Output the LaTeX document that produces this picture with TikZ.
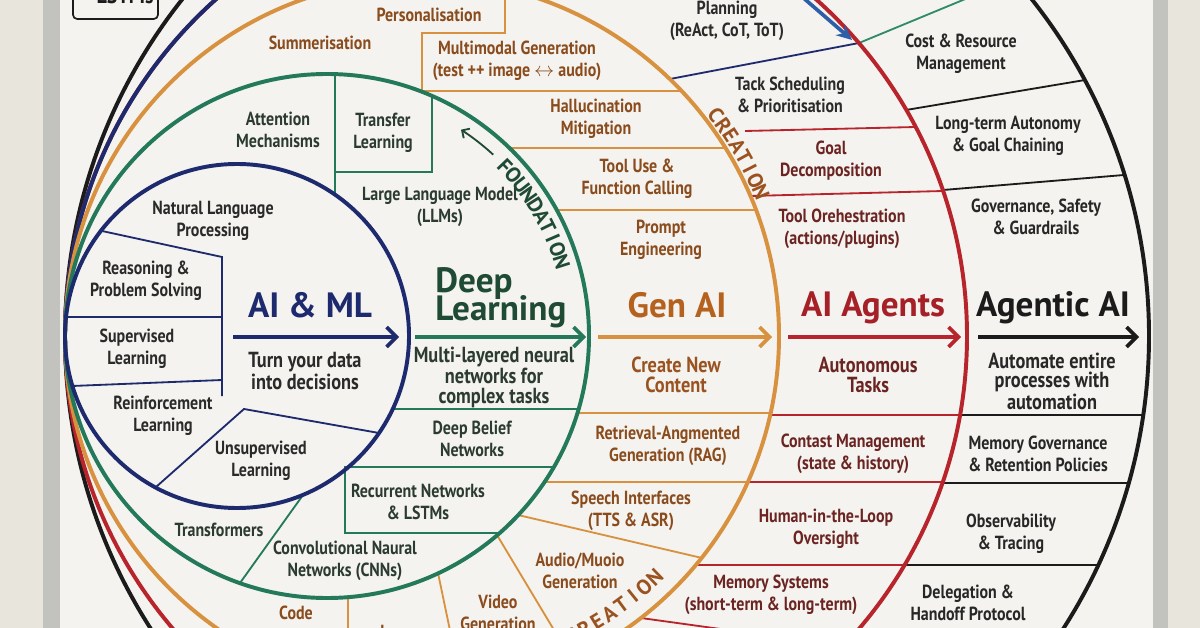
\documentclass[tikz,border=0pt]{standalone}
\usepackage{fontspec}
\newfontfamily\lblfont{PT Sans}[FakeStretch=0.84]
\newfontfamily\ttlfont{PT Sans}
\usetikzlibrary{arrows.meta}

\definecolor{wall}{HTML}{E8E5DC}
\definecolor{frame}{HTML}{C2C2BE}
\definecolor{board}{HTML}{F4F3EF}
\definecolor{navy}{HTML}{1E2A6E}
\definecolor{dlgreen}{HTML}{23795A}
\definecolor{agorange}{HTML}{D8913F}
\definecolor{agred}{HTML}{B8242B}
\definecolor{ink}{HTML}{1B1B1B}
\definecolor{planblue}{HTML}{2C5FA8}
\definecolor{tealgreen}{HTML}{2E8A6A}
\definecolor{txtb}{HTML}{2A2A2A}
\definecolor{txtg}{HTML}{2C3B30}
\definecolor{dltitle}{HTML}{1F4A33}
\definecolor{txto}{HTML}{8A4B1D}
\definecolor{gentitle}{HTML}{B5621E}
\definecolor{gensubc}{HTML}{9A5320}
\definecolor{txtr}{HTML}{6B2421}
\definecolor{txtk}{HTML}{272727}

\tikzset{
  lbl/.style={font=\lblfont\bfseries\fontsize{13.5}{15.6}\selectfont, align=center, inner sep=0pt},
  sub/.style={font=\lblfont\bfseries\fontsize{15.5}{14}\selectfont, align=center, inner sep=0pt},
  ttl/.style={font=\ttlfont\bfseries\fontsize{25}{26}\selectfont, inner sep=0pt, anchor=base},
  arcl/.style={font=\ttlfont\bfseries\fontsize{15}{15}\selectfont, inner sep=0pt},
  ring/.style={line width=2.8pt},
  sep/.style={line width=1.3pt},
  flow/.style={line width=2.6pt, -{Straight Barb[length=7pt,width=14pt]}}
}

\begin{document}
\begin{tikzpicture}[x=0.025cm, y=-0.025cm]
\useasboundingbox (0,0) rectangle (1200,628);
\clip (0,0) rectangle (1200,628);

% wall and whiteboard
\fill[wall] (0,0) rectangle (1200,628);
\fill[frame] (43,0) rectangle (60,628);
\fill[board] (60,0) rectangle (1153,628);
\fill[frame] (1153,0) rectangle (1168,628);

\coordinate (cb) at (237,336);
\coordinate (cg) at (327,336);
\coordinate (co) at (422,336);
\coordinate (cr) at (516,336);
\coordinate (ck) at (607,336);

% cells of AI & ML
\draw[sep, navy] (102,231) -- (222,257) -- (222,396);
\draw[sep, navy] (66,317) -- (222,317);
\draw[sep, navy] (72,386) -- (222,380);
\draw[sep, navy] (156,487) -- (244,409) -- (379,433);

% cells of deep learning
\draw[sep, dlgreen] (335,74) -- (335,195);
\draw[sep, dlgreen] (432,96) -- (432,172) -- (335,172);
\draw[sep, dlgreen] (393,409) -- (579,409);
\draw[sep, dlgreen] (554,467) -- (345,467) -- (345,533) -- (500,533);
\draw[sep, dlgreen] (240,583) -- (303,495);

% cells of gen AI
\draw[sep, agorange] (505,-5) -- (505,33) -- (422,33) -- (422,91) -- (681,91);
\draw[sep, agorange] (510,148) -- (725,148);
\draw[sep, agorange] (557,210) -- (756,210);
\draw[sep, agorange] (577,413) -- (771,413);
\draw[sep, agorange] (545,482) -- (748,482);
\draw[sep, agorange] (518,515) -- (702,558);
\draw[sep, agorange] (497,535) -- (560,640);
\draw[sep, agorange] (438,573) -- (452,640);
\draw[sep, agorange] (348,597) -- (348,640);

% cells of AI agents
\draw[sep, navy] (670,79) -- (859,43);
\draw[sep, agred] (745,131) -- (916,127);
\draw[sep, agred] (750,196) -- (943,191);
\draw[sep, agred] (770,415) -- (960,415);
\draw[sep, agred] (748,482) -- (943,482);
\draw[sep, agred] (696,565) -- (904,565);
\draw[sep, agred] (641,618) -- (800,640);

% cells of agentic AI
\draw[sep, tealgreen] (859,43) -- (975,-5);
\draw[sep, ink] (906,110) -- (1085,80);
\draw[sep, ink] (943,190) -- (1124,175);
\draw[sep, ink] (960,415) -- (1143,415);
\draw[sep, ink] (942,483) -- (1127,483);
\draw[sep, ink] (904,565) -- (1098,565);

% the five rings
\draw[ring, ink] (ck) circle[radius=542];
\draw[ring, agred] (cr) circle[radius=451];
\draw[ring, navy] (cr) ++(175:451) arc[start angle=175, end angle=250, radius=451];
\draw[ring, agorange] (co) circle[radius=357];
\draw[ring, dlgreen] (cg) circle[radius=262];
\draw[ring, navy] (cb) circle[radius=172];

% top arrow into planning
\coordinate (pin) at (800,-5);
\coordinate (pjoin) at (852,40);
\draw[line width=2.6pt, planblue, -{Stealth[length=11pt,width=10pt]}] (pin) -- (pjoin);

% flow arrows
\coordinate (mlS) at (233,337);  \coordinate (mlE) at (399,337);
\coordinate (dlS) at (415,337);  \coordinate (dlE) at (586,337);
\coordinate (gaS) at (598,337);  \coordinate (gaE) at (772,337);
\coordinate (agS) at (788,337);  \coordinate (agE) at (961,337);
\coordinate (acS) at (978,337);  \coordinate (acE) at (1139,337);
\draw[flow, navy] (mlS) -- (mlE);
\draw[flow, dlgreen] (dlS) -- (dlE);
\draw[flow, agorange] (gaS) -- (gaE);
\draw[flow, agred] (agS) -- (agE);
\draw[flow, ink] (acS) -- (acE);

% corner note
\draw[line width=1.2pt, ink, rounded corners=3pt] (73,-30) rectangle (158,19);
\node[font=\lblfont\bfseries\fontsize{17}{17}\selectfont, ink, anchor=base] (lstm) at (118,4) {• LSTMs};

% AI & ML
\node[lbl, txtb] (nlp) at (213,221) {Natural Language\\Processing};
\node[lbl, txtb] (reason) at (146,281) {Reasoning \&\\Problem Solving};
\node[lbl, txtb] (superv) at (137,349) {Supervised\\Learning};
\node[lbl, txtb] (reinf) at (163,416) {Reinforcement\\Learning};
\node[lbl, txtb] (unsup) at (261,461) {Unsupervised\\Learning};
\node[ttl, navy] (aiml) at (310,318) {AI \& ML};
\node[sub, txtb] (aimlsub) at (305,371) {Turn your data\\into decisions};

% deep learning
\node[lbl, txtg] (attn) at (278,130) {Attention\\Mechanisms};
\node[lbl, txtg] (transf) at (383,133) {Transfer\\Learning};
\node[lbl, txtg] (llm) at (440,207) {Large Language Model\\(LLMs)};
\node[ttl, anchor=base west, dltitle] (deep) at (435,293) {Deep};
\node[ttl, anchor=base west, dltitle] (deeplearn) at (435,321) {Learning};
\node[sub, txtg] (deepsub) at (494,377) {Multi-layered neural\\networks for\\complex tasks};
\node[lbl, txtg] (dbn) at (472,439) {Deep Belief\\Networks};
\node[lbl, txtg] (rnn) at (418,502) {Recurrent Networks\\\& LSTMs};
\node[lbl, txtg] (transfo) at (219,530) {Transformers};
\node[lbl, txtg] (cnn) at (345,561) {Convolutional Naural\\Networks (CNNs)};
\draw[line width=1.3pt, dltitle, -{Straight Barb[length=4pt,width=8pt]}] ([shift={(-47.5:246)}]cg) arc[start angle=-47.5, end angle=-57, radius=246];
\foreach \ch [count=\i, evaluate=\i as \a using {-46.6+2.9*\i}, evaluate=\i as \r using {46.6-2.9*\i-90}] in {F,O,U,N,D,A,T,I,O,N}
  \node[arcl, dltitle, rotate=\r] (fd\i) at ([shift={(\a:246)}]cg) {\ch};

% gen AI
\node[lbl, txto] (pers) at (429,15) {Personalisation};
\node[lbl, txto] (summ) at (320,43) {Summerisation};
\node[lbl, txto] (multi) at (517,61) {Multimodal Generation\\(test ++ image \(\leftrightarrow\) audio)};
\node[lbl, txto] (halluc) at (596,119) {Hallucination\\Mitigation};
\node[lbl, txto] (tooluse) at (637,179) {Tool Use \&\\Function Calling};
\node[lbl, txto] (prompt) at (661,240) {Prompt\\Engineering};
\node[ttl, gentitle] (genai) at (677,318) {Gen AI};
\node[sub, gensubc] (gensub) at (676,375) {Create New\\Content};
\node[lbl, txto] (rag) at (668,446) {Retrieval-Angmented\\Generation (RAG)};
\node[lbl, txto] (speech) at (631,511) {Speech Interfaces\\(TTS \& ASR)};
\node[lbl, txto] (audio) at (580,571) {Audio/Muoio\\Generation};
\node[lbl, txto] (video) at (498,613) {Video\\Generation};
\node[lbl, txto] (image) at (401,634) {Image};
\node[lbl, txto] (code) at (296,613) {Code};
\foreach \ch [count=\i, evaluate=\i as \a using {-39+2*\i}, evaluate=\i as \r using {39-2*\i-90}] in {C,R,E,A,T,I,O,N}
  \node[arcl, gensubc, rotate=\r] (crt\i) at ([shift={(\a:368)}]co) {\ch};
\foreach \ch [count=\i, evaluate=\i as \a using {66-2.5*\i}, evaluate=\i as \r using {2.5*\i-66+90}] in {C,R,E,A,T,I,O,N}
  \node[arcl, gensubc, rotate=\r] (crb\i) at ([shift={(\a:335)}]co) {\ch};

% AI agents
\node[lbl, txtb] (plan) at (727,21) {Planning\\(ReAct, CoT, ToT)};
\node[lbl, txtb] (task) at (790,95) {Tack Scheduling\\\& Prioritisation};
\node[lbl, txtr] (goal) at (831,161) {Goal\\Decomposition};
\node[lbl, txtr] (orch) at (842,229) {Tool Orehestration\\(actions/plugins)};
\node[ttl, color=agred!90!black] (agents) at (873,317) {AI Agents};
\node[sub, txtr] (agentsub) at (868,375) {Autonomous\\Tasks};
\node[lbl, txtr] (context) at (853,454) {Contast Management\\(state \& history)};
\node[lbl, txtr] (hitl) at (826,529) {Human-in-the-Loop\\Oversight};
\node[lbl, txtr] (memsys) at (771,595) {Memory Systems\\(short-term \& long-term)};

% agentic AI
\node[lbl, txtk] (cost) at (961,54) {Cost \& Resource\\Management};
\node[lbl, txtk] (longterm) at (1008,136) {Long-term Autonomy\\\& Goal Chaining};
\node[lbl, txtk] (govern) at (1036,217) {Governance, Safety\\\& Guardrails};
\node[ttl, ink] (agentic) at (1053,317) {Agentic AI};
\node[sub, txtk] (agenticsub) at (1052,381) {Automate entire\\processes with\\automation};
\node[lbl, txtk] (memgov) at (1038,454) {Memory Governance\\\& Retention Policies};
\node[lbl, txtk] (observ) at (1011,534) {Observability\\\& Tracing};
\node[lbl, txtk] (deleg) at (968,603) {Delegation \&\\Handoff Protocol};
\end{tikzpicture}
\end{document}
